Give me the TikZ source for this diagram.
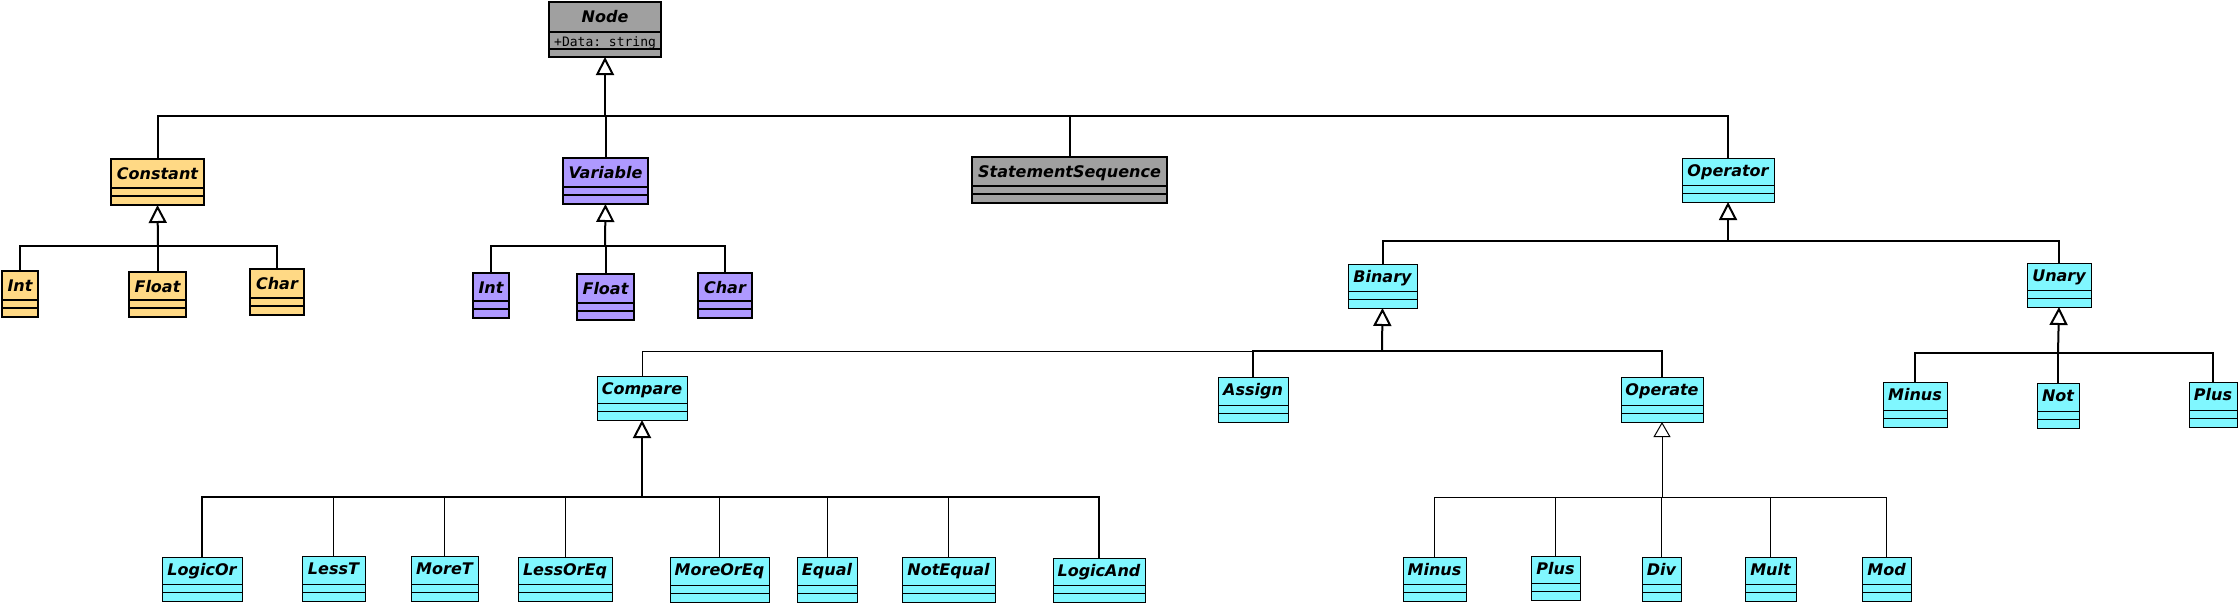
\documentclass[tikz,border=0pt]{standalone}
\usepackage{fontspec}
\setmainfont{DejaVu Sans}[ItalicFont={DejaVu Sans Oblique},BoldFont={DejaVu Sans Bold},BoldItalicFont={DejaVu Sans Bold Oblique}]
\setmonofont{DejaVu Sans Mono}
\usetikzlibrary{arrows.meta,calc}
\definecolor{cgray}{HTML}{A0A0A0}
\definecolor{corange}{HTML}{FFD985}
\definecolor{cpurple}{HTML}{AE99FF}
\definecolor{ccyan}{HTML}{80F7FF}
\tikzset{
  thickbox/.style={draw=black, line width=2.6pt, inner sep=0pt, outer sep=0pt},
  thinbox/.style={draw=black, line width=1pt, inner sep=0pt, outer sep=0pt},
  thicksep/.style={line width=2.6pt},
  thinsep/.style={line width=1pt},
  titletext/.style={font=\fontsize{16}{16}\selectfont\bfseries\itshape, inner sep=0pt, anchor=base},
  gen/.style={-{Triangle[open,length=18pt,width=18pt]}, line width=2pt},
  genthin/.style={-{Triangle[open,length=15pt,width=17pt]}, line width=1pt},
  bus/.style={line width=2pt},
  busthin/.style={line width=1pt}
}
% #1 name, #2 x1, #3 y1, #4 x2, #5 y2, #6 text, #7 fill, #8 thick|thin, #9 baseline offset
\newcommand\umlclass[9]{%
  \node[#8box, fill=#7, minimum width={(#4)-(#2)}, minimum height={(#5)-(#3)}] (#1) at ({((#2)+(#4))/2},{((#3)+(#5))/2}) {};
  \node[titletext] (#1-t) at ($(#1.north)+(0,#9)$) {#6};
  \draw[#8sep] ($(#1.south west)+(0,-9)$) -- ($(#1.south east)+(0,-9)$);
  \draw[#8sep] ($(#1.south west)+(0,-17)$) -- ($(#1.south east)+(0,-17)$);
}
\begin{document}
\begin{tikzpicture}[x=1pt,y=-1pt]
\useasboundingbox (0,0) rectangle (2238,603);
% Root
\node[thickbox, fill=cgray, minimum width=112, minimum height=55] (node) at (605,29.5) {};
\node[titletext] (node-t) at ($(node.north)+(0,20)$) {Node};
\draw[thicksep] ($(node.north west)+(0,30)$) -- ($(node.north east)+(0,30)$);
\draw[thicksep] ($(node.south west)+(0,-8)$) -- ($(node.south east)+(0,-8)$);
\node[font=\fontsize{13}{13}\selectfont\ttfamily, inner sep=0pt, anchor=base west] (node-a) at ($(node.north west)+(5,44)$) {+Data: string};
% Level 1
\umlclass{constant}{111}{159}{204}{205}{Constant}{corange}{thick}{20}
\umlclass{variable}{563}{158}{648}{204}{Variable}{cpurple}{thick}{20}
\umlclass{stseq}{972}{157}{1167}{203}{StatementSequence}{cgray}{thick}{20}
\umlclass{operator}{1682}{158}{1774}{202}{Operator}{ccyan}{thin}{18.5}
% Constant children
\umlclass{cint}{2}{271}{38}{317}{Int}{corange}{thick}{20}
\umlclass{cfloat}{129}{272}{186}{317}{Float}{corange}{thick}{20}
\umlclass{cchar}{250}{269}{304}{315}{Char}{corange}{thick}{20}
% Variable children
\umlclass{vint}{473}{273}{509}{318}{Int}{cpurple}{thick}{20}
\umlclass{vfloat}{577}{274}{634}{320}{Float}{cpurple}{thick}{20}
\umlclass{vchar}{698}{273}{752}{318}{Char}{cpurple}{thick}{20}
% Operator children
\umlclass{binary}{1348}{264}{1417}{308}{Binary}{ccyan}{thin}{18.5}
\umlclass{unary}{2027}{263}{2091}{307}{Unary}{ccyan}{thin}{18.5}
% Binary children
\umlclass{compare}{597}{376}{687}{420}{Compare}{ccyan}{thin}{18.5}
\umlclass{assign}{1218}{377}{1288}{422}{Assign}{ccyan}{thin}{18.5}
\umlclass{operate}{1621}{377}{1703}{422}{Operate}{ccyan}{thin}{18.5}
% Unary children
\umlclass{uminus}{1883}{382}{1947}{427}{Minus}{ccyan}{thin}{18.5}
\umlclass{unot}{2037}{383}{2079}{428}{Not}{ccyan}{thin}{18.5}
\umlclass{uplus}{2189}{382}{2237}{427}{Plus}{ccyan}{thin}{18.5}
% Compare children
\umlclass{logicor}{162}{557}{242}{601}{LogicOr}{ccyan}{thin}{18.5}
\umlclass{lesst}{302}{556}{365}{601}{LessT}{ccyan}{thin}{18.5}
\umlclass{moret}{411}{556}{478}{601}{MoreT}{ccyan}{thin}{18.5}
\umlclass{lessoreq}{518}{557}{612}{601}{LessOrEq}{ccyan}{thin}{18.5}
\umlclass{moreoreq}{670}{557}{769}{602}{MoreOrEq}{ccyan}{thin}{18.5}
\umlclass{equal}{797}{557}{857}{602}{Equal}{ccyan}{thin}{18.5}
\umlclass{notequal}{902}{557}{995}{602}{NotEqual}{ccyan}{thin}{18.5}
\umlclass{logicand}{1053}{558}{1145}{602}{LogicAnd}{ccyan}{thin}{18.5}
% Operate children
\umlclass{ominus}{1403}{557}{1466}{601}{Minus}{ccyan}{thin}{18.5}
\umlclass{oplus}{1531}{556}{1580}{600}{Plus}{ccyan}{thin}{18.5}
\umlclass{odiv}{1642}{557}{1681}{601}{Div}{ccyan}{thin}{18.5}
\umlclass{omult}{1745}{557}{1796}{601}{Mult}{ccyan}{thin}{18.5}
\umlclass{omod}{1862}{557}{1911}{601}{Mod}{ccyan}{thin}{18.5}
% Junctions
\coordinate (jn) at (605,116);
\coordinate (jc) at (158,246);
\coordinate (jv) at (605,246);
\coordinate (jo) at (1728,241);
\coordinate (jb) at (1382,351);
\coordinate (ju) at (2058,353);
\coordinate (jcmp) at (642,497);
\coordinate (jop) at (1662,497);
% Node generalization
\draw[bus] (constant.north) |- (jn);
\draw[bus] (variable.north) |- (jn);
\draw[bus] (stseq.north) |- (jn);
\draw[bus] (operator.north) |- (jn);
\draw[gen] (jn) -- (node.south);
% Constant
\draw[bus] (cint.north) |- (jc);
\draw[bus] (cfloat.north) |- (jc);
\draw[bus] (cchar.north) |- (jc);
\draw[gen] (jc) -- (constant.south);
% Variable
\draw[bus] (vint.north) |- (jv);
\draw[bus] (vfloat.north) |- (jv);
\draw[bus] (vchar.north) |- (jv);
\draw[gen] (jv) -- (variable.south);
% Operator
\draw[bus] (binary.north) |- (jo);
\draw[bus] (unary.north) |- (jo);
\draw[gen] (jo) -- (operator.south);
% Binary
\draw[busthin] (compare.north) |- (jb);
\draw[bus] (assign.north) |- (jb);
\draw[bus] (operate.north) |- (jb);
\draw[gen] (jb) -- (binary.south);
% Unary
\draw[bus] (uminus.north) |- (ju);
\draw[bus] (unot.north) |- (ju);
\draw[bus] (uplus.north) |- (ju);
\draw[gen] (ju) -- (unary.south);
% Compare
\draw[bus] (logicor.north) |- (jcmp);
\draw[bus] (logicand.north) |- (jcmp);
\draw[busthin] (lesst.north) |- (jcmp);
\draw[busthin] (moret.north) |- (jcmp);
\draw[busthin] (lessoreq.north) |- (jcmp);
\draw[busthin] (moreoreq.north) |- (jcmp);
\draw[busthin] (equal.north) |- (jcmp);
\draw[busthin] (notequal.north) |- (jcmp);
\draw[gen] (jcmp) -- (compare.south);
% Operate
\draw[busthin] (ominus.north) |- (jop);
\draw[busthin] (oplus.north) |- (jop);
\draw[busthin] (odiv.north) |- (jop);
\draw[busthin] (omult.north) |- (jop);
\draw[busthin] (omod.north) |- (jop);
\draw[genthin] (jop) -- (operate.south);
\end{tikzpicture}
\end{document}
